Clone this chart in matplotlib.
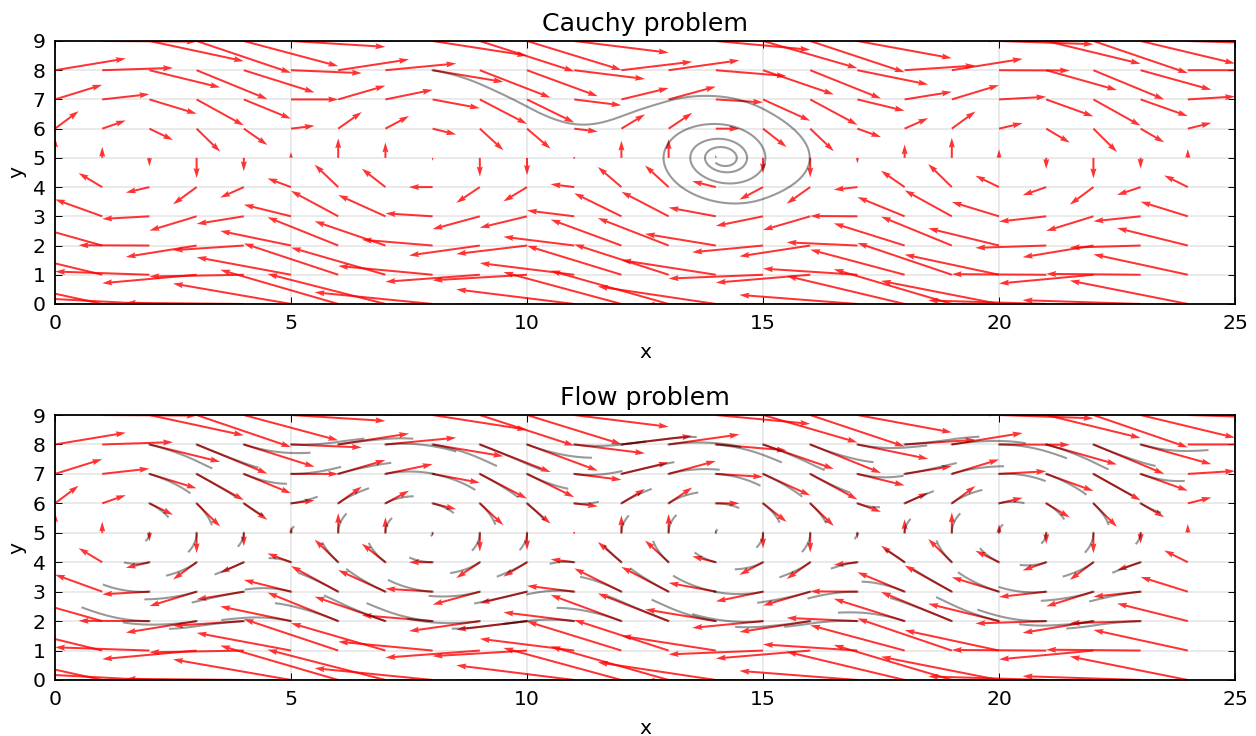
import numpy as np
import matplotlib
matplotlib.use('Agg')
import matplotlib.pyplot as plt

# samples of the field along x (the last one only feeds the trajectories)
xs = np.arange(0, 26)
ys = np.arange(0, 10)
# arrows are drawn on x = 0..24
n_arrow_cols = 25

# horizontal component, one value per row (same along x)
u_row = [-2.5, -2.0, -1.5, -1.0, -0.5, 0.0, 0.5, 1.0, 1.5, 2.0]
# vertical component = column profile + row offset
v_col = [0.70, 0.38, -0.29, -0.69, -0.46, 0.20, 0.67, 0.53, -0.10, -0.64,
         -0.59, 0.00, 0.59, 0.64, 0.10, -0.53, -0.67, -0.19, 0.46, 0.69,
         0.29, -0.38, -0.70, -0.37, 0.30, 0.69]
v_row = [0.5, 0.4, 0.3, 0.2, 0.1, 0.0, -0.1, -0.2, -0.3, -0.4]

# Cauchy problem: one start point, long time
cauchy_start = (8.0, 8.0)
cauchy_time = 50.0

# Flow problem: seeds on the inner grid, unit time
flow_x = np.arange(2, 24)
flow_y = np.arange(2, 9)
flow_time = 1.0


def field(px, py):
    u = np.interp(py, ys, u_row)
    v = np.interp(px, xs, v_col) + np.interp(py, ys, v_row)
    return u, v


def integrate(x0, y0, t_end, n):
    """RK4 on the sampled field, returns arrays of shape (n+1, ...)"""
    dt = t_end / n
    x = np.asarray(x0, dtype=float)
    y = np.asarray(y0, dtype=float)
    px, py = [x.copy()], [y.copy()]
    for _ in range(n):
        k1u, k1v = field(x, y)
        k2u, k2v = field(x + 0.5 * dt * k1u, y + 0.5 * dt * k1v)
        k3u, k3v = field(x + 0.5 * dt * k2u, y + 0.5 * dt * k2v)
        k4u, k4v = field(x + dt * k3u, y + dt * k3v)
        x = x + dt / 6 * (k1u + 2 * k2u + 2 * k3u + k4u)
        y = y + dt / 6 * (k1v + 2 * k2v + 2 * k3v + k4v)
        px.append(x.copy())
        py.append(y.copy())
    return np.array(px), np.array(py)


qx = xs[:n_arrow_cols]
X, Y = np.meshgrid(qx, ys)
U = np.array(u_row)[:, None] * np.ones(len(qx))[None, :]
V = np.array(v_col[:n_arrow_cols])[None, :] + np.array(v_row)[:, None]

fig = plt.figure(figsize=(12.56, 7.36), dpi=100)
ax1 = fig.add_axes([0.0438, 0.5870, 0.9395, 0.3573])
ax2 = fig.add_axes([0.0438, 0.0761, 0.9395, 0.3600])

for ax, title in [(ax1, 'Cauchy problem'), (ax2, 'Flow problem')]:
    ax.quiver(X, Y, U, V, angles='xy', scale_units='xy', scale=1,
              color='r', alpha=0.8, width=0.0017, zorder=2)
    ax.set_xlim(0, 25)
    ax.set_ylim(0, 9)
    ax.set_xticks(np.arange(0, 26, 5))
    ax.set_yticks(np.arange(0, 10, 1))
    ax.grid(True, color='0.9', linewidth=1.2, linestyle='-')
    ax.set_axisbelow(True)
    ax.tick_params(direction='in', top=True, right=True, length=5,
                   width=0.7, labelsize=14.7, pad=7)
    for sp in ax.spines.values():
        sp.set_linewidth(1.3)
    ax.set_title(title, fontsize=18.2, pad=7)
    ax.set_xlabel('x', fontsize=14.7, labelpad=7.5)
    ax.set_ylabel('y', fontsize=14.7, labelpad=4)

# Cauchy trajectory
tx, ty = integrate(cauchy_start[0], cauchy_start[1], cauchy_time, 5000)
ax1.plot(tx, ty, color='k', alpha=0.4, linewidth=1.5, zorder=3)

# flow map curves
FX, FY = np.meshgrid(flow_x, flow_y)
gx, gy = integrate(FX.ravel(), FY.ravel(), flow_time, 60)
for i in range(gx.shape[1]):
    ax2.plot(gx[:, i], gy[:, i], color='k', alpha=0.4, linewidth=1.5, zorder=3)

fig.savefig('out.png', dpi=100)
